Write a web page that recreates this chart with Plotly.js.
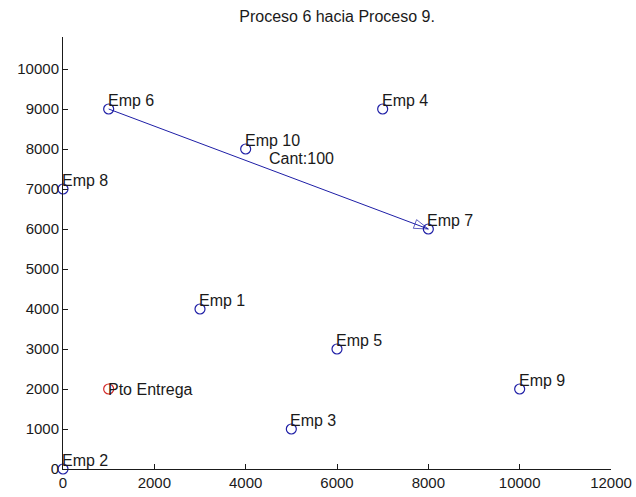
<!DOCTYPE html>
<html>
<head>
<meta charset="utf-8">
<script src="https://cdn.plot.ly/plotly-3.0.1.min.js"></script>
<style>html,body{margin:0;padding:0;background:#fff;}#chart{width:636px;height:497px;}</style>
</head>
<body>
<div id="chart"></div>
<script>
// Companies (Emp) positions
const empLabels = ["Emp 1","Emp 2","Emp 3","Emp 4","Emp 5","Emp 6","Emp 7","Emp 8","Emp 9","Emp 10"];
const empX = [3000, 0, 5000, 7000, 6000, 1000, 8000, 0, 10000, 4000];
const empY = [4000, 0, 1000, 9000, 3000, 9000, 6000, 7000, 2000, 8000];
// Delivery point
const deliveryLabel = "Pto Entrega";
const deliveryX = [1000];
const deliveryY = [2000];
// Transfer: from Emp 6 to Emp 7
const fromIdx = 5;
const toIdx = 6;
const quantityLabel = "Cant:100";
const titleText = "Proceso 6 hacia Proceso 9.";
// Axis ticks
const xTicks = [0, 2000, 4000, 6000, 8000, 10000, 12000];
const yTicks = [0, 1000, 2000, 3000, 4000, 5000, 6000, 7000, 8000, 9000, 10000];

const blue = '#1e1ea6';
const fam = '"Liberation Sans", Arial, Helvetica, sans-serif';
const textFont = {family: fam, size: 16, color: '#1a1a1a'};
const tickFont = {family: fam, size: 15, color: '#1a1a1a'};

const arrowX = [empX[fromIdx], empX[toIdx]];
const arrowY = [empY[fromIdx], empY[toIdx]];

const traces = [
  {
    x: arrowX, y: arrowY, type: 'scatter', mode: 'lines+markers',
    line: {color: blue, width: 1},
    marker: {symbol: ['circle', 'arrow-open'], size: [0, 15], angleref: 'previous',
             color: blue, line: {color: blue, width: 1}},
    hoverinfo: 'skip', showlegend: false, cliponaxis: false
  },
  {
    x: empX, y: empY, type: 'scatter', mode: 'markers',
    marker: {symbol: 'circle-open', size: 10, color: blue, line: {color: blue, width: 1.2}},
    showlegend: false, cliponaxis: false
  },
  {
    x: deliveryX, y: deliveryY, type: 'scatter', mode: 'markers',
    marker: {symbol: 'circle-open', size: 10, color: '#d42a2a', line: {color: '#d42a2a', width: 1.2}},
    showlegend: false, cliponaxis: false
  }
];

const annotations = empLabels.map((t, i) => ({
  x: empX[i], y: empY[i], text: t, showarrow: false,
  xanchor: 'left', yanchor: 'middle', yshift: 9, xshift: -2,
  font: textFont, borderpad: 0
}));
annotations.push({
  x: deliveryX[0], y: deliveryY[0], text: deliveryLabel, showarrow: false,
  xanchor: 'left', yanchor: 'middle', yshift: 0, xshift: -2, font: textFont, borderpad: 0
});
annotations.push({
  x: (arrowX[0] + arrowX[1]) / 2, y: (arrowY[0] + arrowY[1]) / 2, text: quantityLabel, showarrow: false,
  xanchor: 'left', yanchor: 'middle', yshift: 11, xshift: -1, font: textFont, borderpad: 0
});

const layout = {
  width: 636, height: 497,
  margin: {l: 63, r: 25, t: 37, b: 28, pad: 0},
  paper_bgcolor: '#fff', plot_bgcolor: '#fff',
  font: textFont,
  title: {text: titleText, font: textFont, x: 0.53, xanchor: 'center', y: 0.966, yanchor: 'middle'},
  xaxis: {
    range: [0, 12000], tickmode: 'array', tickvals: xTicks, ticktext: xTicks.map(String),
    ticks: 'inside', ticklen: 5, tickcolor: '#1a1a1a', showline: true, linecolor: '#1a1a1a', linewidth: 1,
    showgrid: false, zeroline: false, tickfont: tickFont
  },
  yaxis: {
    range: [0, 10800], tickmode: 'array', tickvals: yTicks, ticktext: yTicks.map(String),
    ticks: 'inside', ticklen: 5, tickcolor: '#1a1a1a', showline: true, linecolor: '#1a1a1a', linewidth: 1,
    showgrid: false, zeroline: false, tickfont: tickFont
  },
  annotations: annotations,
  showlegend: false
};

Plotly.newPlot('chart', traces, layout, {displayModeBar: false, staticPlot: true});
</script>
</body>
</html>
